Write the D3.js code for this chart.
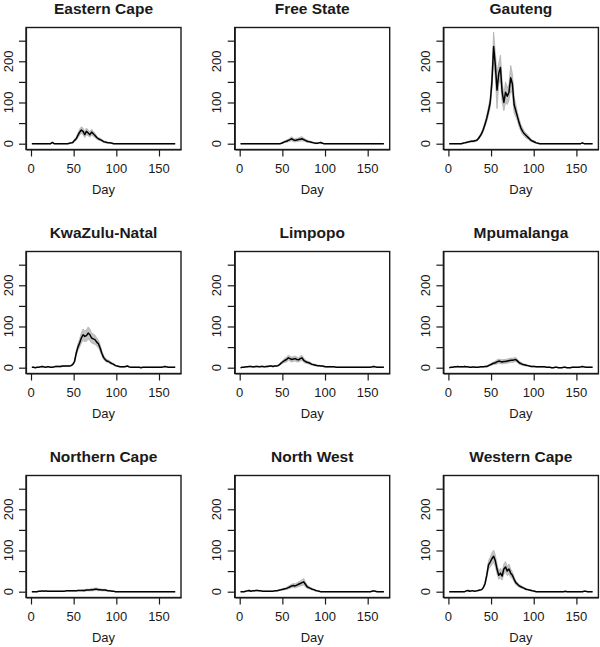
<!DOCTYPE html>
<html><head><meta charset="utf-8">
<script src="https://cdn.jsdelivr.net/npm/d3@7"></script>
<style>body{margin:0;background:#fff}svg{display:block}</style>
</head><body>
<script>
// Days sampled every 2 days: 1,3,...,169
const days = d3.range(1, 170, 2);
const provinces = ["Eastern Cape","Free State","Gauteng","KwaZulu-Natal","Limpopo","Mpumalanga","Northern Cape","North West","Western Cape"];
const xTicks = [0, 50, 100, 150];
const yTicks = [0, 50, 100, 150, 200, 250];
const yLabels = [0, 100, 200];
const z10 = [0,0,0,0,0,0,0,0,0,0];

const meanEC = [0,0,0,0,0,0,0,0,0,0, 0,0,3,0,0,0,0,0,0,0, 0,0,1,2,3,8,12,20,28,33, 30,22,30,26,22,28,24,20,15,12, 10,8,5,4,3,2,2,1,0,0, ...z10, ...z10, ...z10, 0,0,0,0,0];
const hwEC   = [...z10, ...z10, 0,0,1,1,2,3,4,6,7,8, 8,7,8,7,6,7,6,5,4,3, 3,2,2,2,1,1,1,1,0,0, ...z10, ...z10, ...z10, 0,0,0,0,0];

const meanFS = [...z10, ...z10, 0,0,0,0,1,3,5,6,8,10, 12,9,8,9,10,11,12,10,8,6, 5,4,3,2,1,1,2,3,1,0, ...z10, ...z10, ...z10, 0,0,0,0,0];
const hwFS   = [...z10, ...z10, 0,0,0,0,1,1,2,3,3,4, 5,4,4,4,4,5,5,4,3,3, 2,2,1,1,1,1,1,1,0,0, ...z10, ...z10, ...z10, 0,0,0,0,0];

const meanGP = [0,0,0,0,0,0,0,0,1,2, 3,4,5,6,6,7,8,12,18,25, 35,48,62,80,100,150,236,190,130,170, 185,125,100,125,115,125,160,145,95,80, 65,50,38,30,24,20,16,12,8,6, 4,2,1,0,0,0,0,0,0,0, ...z10, 0,0,0,0,0,0,0,0,2,0, 0,0,0,0,0];
const hwGP   = [0,0,0,0,0,0,0,0,1,1, 1,1,2,2,2,2,2,3,3,4, 5,6,8,10,12,20,35,30,45,25, 30,25,20,25,20,20,30,25,20,15, 10,10,8,8,6,6,5,4,3,2, 2,1,1,0,0,0,0,0,0,0, ...z10, 0,0,0,0,0,0,0,0,1,0, 0,0,0,0,0];

const meanKZN = [1,1,0,1,1,2,3,2,1,2, 2,1,1,2,3,3,3,3,4,4, 4,4,4,5,8,15,35,50,60,72, 80,76,78,84,80,72,70,68,62,58, 48,35,25,20,16,15,12,10,8,5, 4,3,2,2,2,3,4,2,1,1, 1,1,1,1,0,1,1,1,1,1, 1,1,1,1,1,1,1,2,3,2, 1,1,1,1,1];
const hwKZN   = [0,0,0,0,0,1,1,1,0,1, 1,0,0,1,1,1,1,1,1,1, 1,1,1,1,2,3,6,8,10,12, 14,13,14,15,14,12,12,11,10,9, 8,6,5,4,3,3,3,2,2,1, 1,1,1,1,1,1,1,1,0,0, ...z10, 0,0,0,0,0,0,0,1,1,1, 0,0,0,0,0];

const meanLP = [0,1,1,2,2,3,3,2,2,3, 3,2,3,3,2,3,3,4,4,3, 4,4,5,8,12,15,18,20,24,22, 20,21,22,20,19,22,24,18,15,13, 12,10,8,7,6,5,5,4,4,3, 2,2,2,2,2,2,1,1,1,1, 1,1,1,1,1,1,1,1,1,1, 1,1,1,1,1,1,1,2,3,2, 1,1,1,1,1];
const hwLP   = [0,0,0,1,1,1,1,1,1,1, 1,1,1,1,1,1,1,1,1,1, 1,1,1,2,3,4,5,6,6,6, 6,6,6,6,5,6,6,5,4,3, 3,3,2,2,2,1,1,1,1,1, 1,1,1,1,1,1,0,0,0,0, ...z10, 0,0,0,0,0,0,0,1,1,1, 0,0,0,0,0];

const meanMP = [0,1,1,2,2,3,2,2,2,3, 2,2,1,1,2,1,1,1,2,2, 2,3,3,5,7,9,11,12,14,16, 15,14,15,15,16,17,18,18,19,20, 16,12,10,8,7,6,5,4,3,3, 3,2,2,2,2,2,2,1,1,1, 0,0,1,1,0,0,0,1,1,0, 0,0,1,1,1,1,1,2,3,2, 1,1,1,1,1];
const hwMP   = [0,0,0,1,1,1,1,1,1,1, 1,1,0,0,1,0,0,0,1,1, 1,1,1,2,2,3,3,4,5,5, 5,5,5,5,5,5,5,5,5,5, 4,4,3,3,2,2,1,1,1,1, 1,1,1,1,1,1,1,0,0,0, ...z10, 0,0,0,0,0,0,0,1,1,1, 0,0,0,0,0];

const meanNC = [0,0,0,0,1,1,2,1,2,1, 1,1,1,1,1,1,1,1,1,1, 2,2,2,2,2,2,2,3,3,3, 3,3,4,4,4,5,5,6,6,5, 5,4,4,4,3,2,2,1,1,0, ...z10, ...z10, ...z10, 0,0,0,0,0];
const hwNC   = [0,0,0,0,0,0,1,0,1,0, 0,0,0,0,0,0,0,0,0,0, 1,1,1,1,1,1,1,1,1,1, 2,2,2,2,2,3,3,3,3,3, 2,2,2,2,1,1,1,1,0,0, ...z10, ...z10, ...z10, 0,0,0,0,0];

const meanNW = [0,0,0,1,2,3,1,2,2,3, 3,2,2,1,1,1,1,1,1,1, 2,2,3,4,5,6,7,8,10,12, 14,15,14,16,18,20,22,24,18,12, 10,8,6,5,3,2,1,0,0,0, ...z10, ...z10, 0,0,0,0,0,0,0,1,2,1, 0,0,0,0,0];
const hwNW   = [0,0,0,0,1,1,0,1,1,1, 1,1,1,0,0,0,0,0,0,0, 1,1,1,1,2,2,2,3,3,4, 4,5,5,5,6,6,7,8,6,4, 3,2,2,1,1,1,0,0,0,0, ...z10, ...z10, 0,0,0,0,0,0,0,0,1,0, 0,0,0,0,0];

const meanWC = [...z10, 2,3,1,2,2,1,2,3,4,5, 10,20,40,65,72,80,86,75,55,40, 45,38,55,60,50,55,45,40,30,22, 18,14,12,10,8,6,5,4,3,2, 1,0,0,0,0,0,0,0,0,0, 0,0,0,0,0,0,0,0,1,0, 0,0,0,0,0,0,0,0,0,1, 1,0,0,0,0];
const hwWC   = [...z10, 0,1,0,1,1,0,1,1,1,1, 2,4,6,10,12,14,15,14,12,10, 12,10,12,13,11,12,10,8,6,5, 4,3,3,2,2,2,1,1,1,1, 1,0,0,0,0,0,0,0,0,0, ...z10, ...z10, 0,0,0,0,0];

const means = [meanEC, meanFS, meanGP, meanKZN, meanLP, meanMP, meanNC, meanNW, meanWC];
const halfWidths = [hwEC, hwFS, hwGP, hwKZN, hwLP, hwMP, hwNC, hwNW, hwWC];

const W = 600, H = 647;
const colLeft = [26, 234.7, 443.4], rowTop = [27.5, 251.5, 475.5];
const pw = 155, ph = 122;
const svg = d3.select("body").append("svg").attr("width", W).attr("height", H);
const font = "Liberation Sans, Arial, sans-serif";

const x = d3.scaleLinear().domain([-5.86, 175.8]).range([0, pw]);
const y = d3.scaleLinear().domain([-14.1, 282]).range([ph, 0]);

provinces.forEach((name, k) => {
  const g = svg.append("g").attr("transform", `translate(${colLeft[k % 3]},${rowTop[Math.floor(k / 3)]})`);
  const m = means[k], hw = halfWidths[k];
  const data = days.map((d, i) => ({d, m: m[i], lo: Math.max(0, m[i] - hw[i]), hi: m[i] + hw[i]}));

  g.append("path").datum(data)
    .attr("d", d3.area().x(p => x(p.d)).y0(p => y(p.lo)).y1(p => y(p.hi)))
    .attr("fill", "#c4c4c4").attr("stroke", "#b0b0b0").attr("stroke-width", 0.8);
  g.append("path").datum(data)
    .attr("d", d3.line().x(p => x(p.d)).y(p => y(p.m)))
    .attr("fill", "none").attr("stroke", "#000").attr("stroke-width", 1.5).attr("stroke-linejoin", "round");

  g.append("rect").attr("x", 0).attr("y", 0).attr("width", pw).attr("height", ph)
    .attr("fill", "none").attr("stroke", "#1a1a1a").attr("stroke-width", 1.4);

  const ya = g.append("g").call(d3.axisLeft(y).tickValues(yTicks).tickSize(7).tickSizeOuter(0).tickFormat(""));
  ya.select(".domain").attr("stroke", "#1a1a1a").attr("stroke-width", 1.2);
  ya.selectAll("line").attr("stroke", "#1a1a1a").attr("stroke-width", 1.2);
  yLabels.forEach(v => {
    g.append("text").attr("transform", `translate(-13.5,${y(v)}) rotate(-90)`)
      .attr("text-anchor", "middle").attr("font-family", font).attr("font-size", 13)
      .attr("fill", "#1a1a1a").text(v);
  });

  const xa = g.append("g").attr("transform", `translate(0,${ph})`)
    .call(d3.axisBottom(x).tickValues(xTicks).tickSize(7).tickSizeOuter(0).tickFormat(""));
  xa.select(".domain").attr("stroke", "#1a1a1a").attr("stroke-width", 1.2);
  xa.selectAll("line").attr("stroke", "#1a1a1a").attr("stroke-width", 1.2);
  xTicks.forEach(v => {
    g.append("text").attr("x", x(v)).attr("y", ph + 23).attr("text-anchor", "middle")
      .attr("font-family", font).attr("font-size", 13).attr("fill", "#1a1a1a").text(v);
  });
  g.append("text").attr("x", pw / 2).attr("y", ph + 44).attr("text-anchor", "middle")
    .attr("font-family", font).attr("font-size", 13).attr("fill", "#1a1a1a").text("Day");
  g.append("text").attr("x", pw / 2).attr("y", -13.5).attr("text-anchor", "middle")
    .attr("font-family", font).attr("font-size", 15.5).attr("font-weight", "bold")
    .attr("fill", "#1a1a1a").text(name);
});
</script>
</body></html>
